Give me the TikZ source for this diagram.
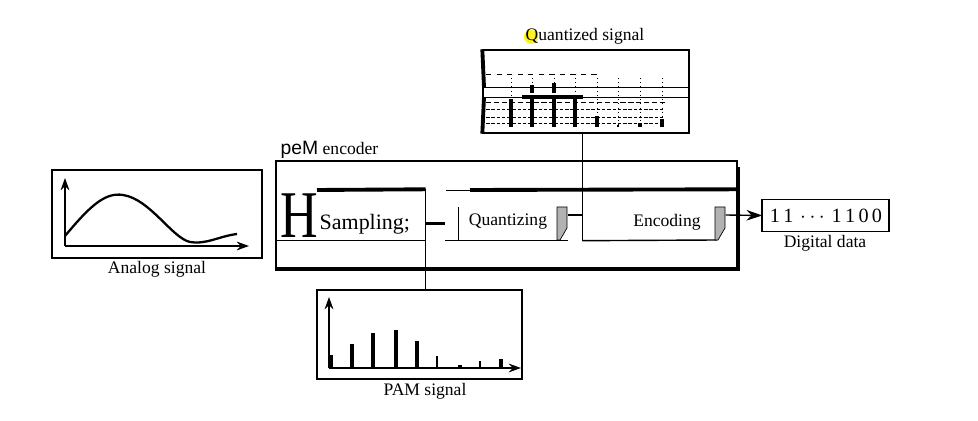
\documentclass[tikz,border=0pt]{standalone}
\usepackage{graphicx}
\usepackage{fontspec}
\setmainfont{Liberation Serif}
\newfontfamily\sansfam{Liberation Sans}
\usetikzlibrary{arrows.meta,positioning}

\begin{document}
\begin{tikzpicture}[x=0.02cm, y=-0.02cm, line width=0.8pt,
  every node/.style={font=\fontsize{10}{12}\selectfont},
  panel/.style={draw, inner sep=0pt},
  heavy/.style={line width=2.2pt},
  shade/.style={fill=gray!60, draw=black, line width=0.4pt},
  bar/.style={line width=#1},
  bar/.default=1.8pt,
  axis/.style={-{Stealth[length=7pt,width=5pt]}, line width=0.9pt}]
\useasboundingbox (0,0) rectangle (978,421);
%
% signal panels
\node[panel, minimum width=4.2cm, minimum height=1.76cm] (analog) at (157,214) {};
\node (analoglbl) at (157,269) {Analog signal};
\node[panel, minimum width=4.1cm, minimum height=1.78cm] (pam) at (419.5,334.5) {};
\node (pamlbl) at (425,391) {PAM signal};
\node[panel, minimum width=4.12cm, minimum height=1.66cm] (quantized) at (586,91.5) {};
\fill[yellow!90] (531,37) circle (7);
\node (quantizedlbl) at (585,36) {Quantized signal};
%
% encoder and its stages
\node[panel, minimum width=9.22cm, minimum height=2.14cm] (encoder) at (506.5,214.5) {};
\node[anchor=west, inner sep=0pt] (encoderlbl) at (280,150) {{\sansfam\fontsize{11}{12}\selectfont peM} encoder};
\draw[heavy] ([yshift=-0.14cm]encoder.north east) -- (encoder.south east) -- (encoder.south west);
%
\node[minimum width=2.96cm, minimum height=1cm, inner sep=0pt] (sampling) at (351,215) {};
\node[anchor=base west, inner sep=0pt, font=\fontsize{38}{38}\selectfont] (bigH) at (280,238) {\scalebox{0.78}[1]{H}};
\node[anchor=base west, inner sep=0pt, font=\fontsize{12.5}{13}\selectfont] (samplinglbl) at (319,230) {Sampling;};
\draw[heavy] (317,190) -- (sampling.north east);
\draw (sampling.south west) -- (sampling.south east);
\draw (sampling.north east) -- (sampling.east |- pam.north);
%
\node[minimum width=2.42cm, minimum height=0.66cm, inner sep=0pt] (quantizing) at (506.5,223.5) {};
\node (quantizinglbl) at (508,222) {Quantizing};
\draw (quantizing.south west) -- (quantizing.south east);
\draw[line width=0.5pt] (458,207) -- (458,240);
\draw[shade] (557,207) -- (567,207) -- (567,228) -- (560,240) -- (557,240) -- cycle;
%
\node[minimum width=2.84cm, minimum height=1cm, inner sep=0pt] (encoding) at (654,215) {};
\node (encodinglbl) at (667,222) {Encoding};
\draw (encoding.south west) -- (717,240);
\draw[shade] (715,207) -- (725,207) -- (725,228) -- (718,240) -- (715,240) -- cycle;
%
% top strip of the stages
\draw[line width=0.5pt] (446,190) -- (470,190);
\draw[heavy] (470,190) -- (encoding.north -| encoder.east);
%
% digital output
\node[minimum width=2.5cm, minimum height=0.62cm, inner sep=0pt] (digital) at (825.5,215.5) {};
\draw[line width=0.5pt] (digital.north west) -- (digital.north east);
\draw[line width=0.5pt] (digital.south west) -- (digital.south east);
\draw[line width=1.2pt] (digital.north west) -- (digital.south west);
\draw[line width=1.2pt] (digital.north east) -- (digital.south east);
\node[font=\fontsize{11.5}{12}\selectfont] (digitalval) at (826,216) {1\,1\,\,$\cdots$\,\,1\,1\,0\,0};
\node (digitallbl) at (825,243) {Digital data};
%
% connectors
\draw[line width=1.2pt] (sampling.east |- quantizing.west) -- (quantizing.west);
\draw (quantizing.east |- encoding.west) -- (encoding.west);
\draw (encoding.south west) -- (encoding.south west |- quantized.south);
\draw[-{Stealth[length=9pt,width=6pt]}] (encoding.east) -- (digital.west);
%
% analog signal
\draw[axis] (65,246) -- (65,178);
\draw[axis] (65,246) -- (249,246);
\draw[line width=1.3pt] (65,236) .. controls (90,206) and (105,192) .. (123,195)
  .. controls (150,199) and (172,238) .. (190,242)
  .. controls (205,245) and (220,236) .. (237,234);
%
% PAM signal
\draw[axis] (329,368) -- (329,297);
\draw[axis] (329,368) -- (521,368);
\foreach \x/\y/\w in {331/355/2.6pt, 352/344/1.8pt, 373/333/1.8pt, 396/330/1.8pt,
    417/341/1.8pt, 437/356/0.7pt, 460/365/1.8pt, 480/361/0.7pt, 501/359/2.8pt}
  \draw[bar=\w] (\x,368) -- (\x,\y);
%
% quantized signal
\draw[heavy] (quantized.north west) -- (484,87);
\draw[heavy] (484,97) -- (quantized.south west);
\draw[line width=0.5pt] (483,87) -- (quantized.east |- 0,87);
\draw[line width=0.5pt] (483,97) -- (quantized.east |- 0,97);
\draw[line width=2pt] (522,97) -- (583,97);
\draw[line width=0.4pt, dashed] (486,74) -- (600,74);
\draw[line width=0.4pt, dash pattern=on 3pt off 1.5pt] (486,102) -- (665,102);
\foreach \y in {109,117,123}
  \draw[line width=0.4pt, dash pattern=on 2pt off 1pt] (486,\y) -- (665,\y);
\foreach \x in {511,532,554,575,597,618,640,662}
  \draw[line width=0.4pt, dotted] (\x,78) -- (\x,127);
\foreach \x/\y/\w in {511/99/2.4pt, 532/97/2.4pt, 554/97/2.4pt, 575/97/2.4pt,
    597/116/2.4pt, 618/125/0.8pt, 640/123/2.4pt, 662/119/2.4pt}
  \draw[bar=\w] (\x,127) -- (\x,\y);
\draw[bar=2.4pt] (532,85) -- (532,93);
\draw[bar=2.4pt] (554,83) -- (554,93);
\end{tikzpicture}
\end{document}
